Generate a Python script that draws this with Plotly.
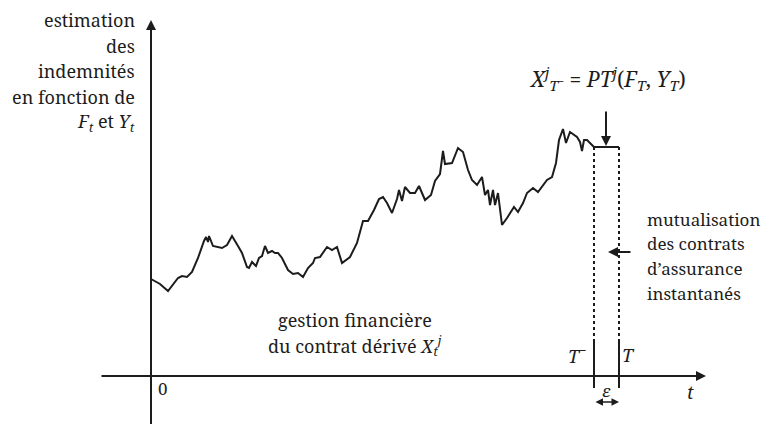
import plotly.graph_objects as go

# trajectory of the estimated indemnity (origin at the axes crossing)
path_t = [0, 9, 17, 21, 27, 31, 36, 41, 47, 53, 55, 57, 58, 62, 71, 76, 81, 87, 91, 96,
          98, 101, 105, 108, 111, 114, 117, 121, 124, 127, 131, 137, 142, 147, 152, 157,
          162, 164, 169, 176, 181, 186, 191, 199, 206, 212, 217, 223, 228, 232, 236, 241,
          246, 248, 251, 254, 259, 264, 268, 274, 280, 284, 289, 292, 294, 301, 307, 312,
          317, 321, 326, 331, 334, 337, 339, 342, 344, 347, 351, 356, 363, 367, 372, 376,
          382, 387, 396, 401, 405, 408, 412, 415, 419, 426, 429, 431, 433, 436, 439, 443]
path_v = [97, 92, 85, 90, 98, 100, 99, 104, 118, 135, 139, 134, 140, 130, 128, 131, 140, 130,
          123, 109, 108, 114, 110, 118, 120, 130, 123, 125, 123, 123, 118, 106, 102, 103, 99,
          108, 113, 118, 119, 129, 126, 129, 113, 119, 133, 155, 155, 166, 177, 179, 173, 163,
          177, 186, 175, 189, 183, 183, 190, 176, 181, 195, 202, 225, 212, 213, 228, 224, 206,
          196, 191, 199, 181, 186, 171, 186, 171, 183, 151, 158, 169, 164, 173, 183, 188, 184,
          196, 199, 213, 236, 247, 233, 244, 239, 234, 225, 236, 236, 233, 229]

t_minus = 443
t_end = 468
x_final = path_v[-1]

ink = "#1c1c1c"
serif = "Noto Serif"

fig = go.Figure()
fig.add_trace(go.Scatter(x=path_t, y=path_v, mode="lines",
                         line=dict(color=ink, width=2), hoverinfo="skip"))
fig.add_trace(go.Scatter(x=[t_minus, t_end], y=[x_final, x_final], mode="lines",
                         line=dict(color=ink, width=2), hoverinfo="skip"))
# dotted verticals
for tx in (t_minus, t_end):
    fig.add_trace(go.Scatter(x=[tx, tx], y=[34, x_final], mode="lines",
                             line=dict(color=ink, width=2, dash="dot"), hoverinfo="skip"))
    fig.add_trace(go.Scatter(x=[tx, tx], y=[-12, 34], mode="lines",
                             line=dict(color=ink, width=2), hoverinfo="skip"))


def arrow(x0, y0, x1, y1, side="end", w=2):
    fig.add_annotation(x=x1, y=y1, ax=x0, ay=y0, xref="x", yref="y", axref="x", ayref="y",
                       showarrow=True, arrowhead=2, arrowsize=1, arrowwidth=w,
                       arrowcolor=ink, arrowside=side, text="")


# axes
arrow(0, -56, 0, 356)
arrow(-51, 0, 555, 0)
# markers
arrow(455, 266, 455, x_final + 1)
arrow(481, 124, 457, 124)
arrow(t_minus, -26, t_end, -26, side="end+start", w=1.5)


def label(x, y, text, anchor="center", size=18):
    fig.add_annotation(x=x, y=y, xref="x", yref="y", text=text, showarrow=False,
                       xanchor=anchor, yanchor="middle",
                       font=dict(family=serif, size=size, color=ink))


left_lines = ["estimation", "des", "indemnités", "en fonction de",
              "<i>F</i><sub><i>t</i></sub> et <i>Y</i><sub><i>t</i></sub>"]
for i, s in enumerate(left_lines):
    label(-14, 356 - 25.5 * i, s, anchor="right")

right_lines = ["mutualisation", "des contrats", "d’assurance", "instantanés"]
for i, s in enumerate(right_lines):
    label(494, 157 - 24.7 * i, s, anchor="left", size=17)

label(204, 56, "gestion financière")
label(204, 30, "du contrat dérivé <i>X</i><sub><i>t</i></sub><sup><i>j</i></sup>")

label(456, 298, "<i>X</i><sup><i>j</i></sup><sub><i>T</i><sup>−</sup></sub> = "
                "<i>P</i><i>T</i><sup><i>j</i></sup>(<i>F</i><sub><i>T</i></sub>, "
                "<i>Y</i><sub><i>T</i></sub>)", size=21)

label(12, -12, "0", size=17)
label(539, -16, "<i>t</i>")
label(455, -14, "<i>ε</i>", size=17)
label(426, 21, "<i>T</i><sup>−</sup>")
label(477, 21, "<i>T</i>")

# the page body adds an 8 px margin, so the ranges are shifted to compensate
fig.update_layout(width=772, height=424, margin=dict(l=0, r=0, t=0, b=0),
                  plot_bgcolor="white", paper_bgcolor="white", showlegend=False,
                  xaxis=dict(range=[-143, 629], visible=False, fixedrange=True),
                  yaxis=dict(range=[-56, 368], visible=False, fixedrange=True))

fig.write_html("out.html")
